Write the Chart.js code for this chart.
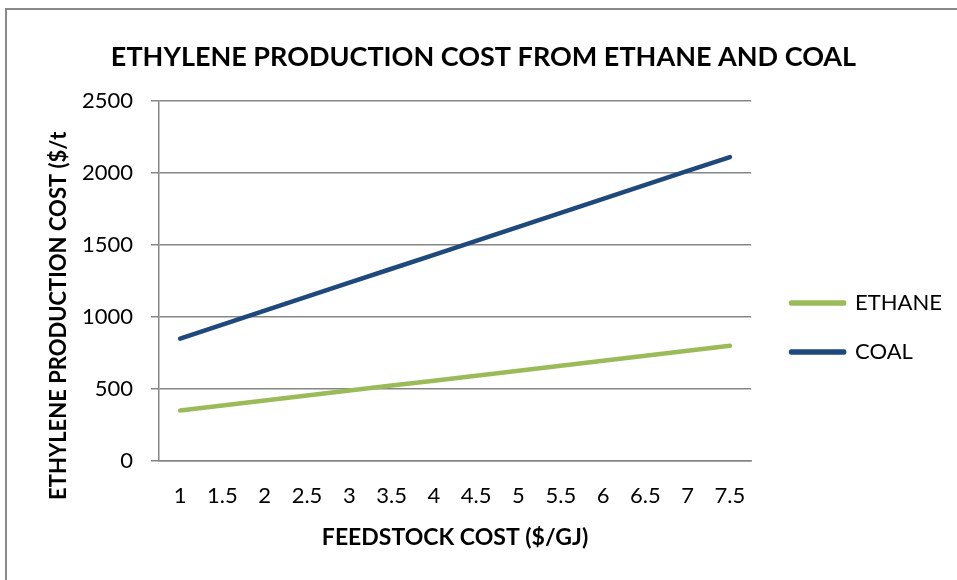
<!DOCTYPE html>
<html>
<head>
<meta charset="utf-8">
<script src="https://cdn.jsdelivr.net/npm/chart.js@4.4.0/dist/chart.umd.min.js"></script>
<style>
  html, body { margin: 0; padding: 0; background: #fff; }
  #wrap { position: relative; width: 957px; height: 580px; overflow: hidden; }
  #frame { position: absolute; left: 5px; top: 8px; right: -5px; bottom: -5px;
           border-left: 2px solid #898989; border-top: 2px solid #898989; }
  canvas { position: absolute; left: 0; top: 0; }
</style>
</head>
<body>
<div id="wrap">
  <div id="frame"></div>
  <canvas id="chart" width="957" height="580"></canvas>
</div>
<script>
// feedstock cost ($/GJ)
const categories = ['1', '1.5', '2', '2.5', '3', '3.5', '4', '4.5', '5', '5.5', '6', '6.5', '7', '7.5'];
// ethylene production cost ($/t)
const ethane = [350, 385, 420, 455, 490, 524, 558, 592, 627, 662, 696, 731, 765, 800];
const coal = [850, 947, 1044, 1141, 1238, 1335, 1432, 1529, 1626, 1723, 1820, 1917, 2014, 2111];
const yTicks = [0, 500, 1000, 1500, 2000, 2500];

const FONT = 'Lato, "Open Sans", sans-serif';
const gridColor = '#868686';

// push the legend a bit right and down, like the original
const legendNudge = {
    id: 'legendNudge',
    afterLayout(chart) {
        const lg = chart.legend;
        lg.left += 13; lg.right += 13;
        lg.top += 52; lg.bottom += 52;
    }
};

const ctx = document.getElementById('chart').getContext('2d');
new Chart(ctx, {
    type: 'line',
    data: {
        labels: categories,
        datasets: [
            {
                label: 'ETHANE',
                data: ethane,
                borderColor: '#9BBB59',
                backgroundColor: '#9BBB59',
                borderWidth: 4.5,
                borderCapStyle: 'round',
                borderJoinStyle: 'round',
                pointRadius: 0,
                tension: 0
            },
            {
                label: 'COAL',
                data: coal,
                borderColor: '#1F497D',
                backgroundColor: '#1F497D',
                borderWidth: 4.5,
                borderCapStyle: 'round',
                borderJoinStyle: 'round',
                pointRadius: 0,
                tension: 0
            }
        ]
    },
    options: {
        responsive: false,
        animation: false,
        layout: { padding: { left: 28, right: 18, top: 0, bottom: 29 } },
        plugins: {
            title: {
                display: true,
                text: 'ETHYLENE PRODUCTION COST FROM ETHANE AND COAL',
                color: '#000',
                font: { family: FONT, size: 27, weight: 'bold' },
                padding: { top: 41, bottom: 27.6 }
            },
            legend: {
                position: 'right',
                labels: {
                    color: '#000',
                    font: { family: FONT, size: 22 },
                    boxWidth: 53,
                    boxHeight: 1,
                    padding: 27
                }
            },
            tooltip: { enabled: false }
        },
        scales: {
            x: {
                offset: true,
                afterFit: scale => { scale.height = 90; },
                grid: { display: false, drawTicks: false },
                border: { display: true, color: gridColor, width: 1.5 },
                ticks: { color: '#000', font: { family: FONT, size: 22 }, padding: 22, maxRotation: 0, autoSkip: false },
                title: {
                    display: true,
                    text: 'FEEDSTOCK COST ($/GJ)',
                    color: '#000',
                    font: { family: FONT, size: 23, weight: 'bold' },
                    padding: { top: 14, bottom: 0 }
                }
            },
            y: {
                min: 0,
                max: 2500,
                afterBuildTicks: function(scale) {
                    scale.ticks = yTicks.map(v => ({ value: v }));
                },
                afterFit: scale => { scale.width = 131; },
                grid: { color: gridColor, lineWidth: 1.5, tickLength: 8, drawTicks: true },
                border: { display: true, color: gridColor, width: 1.5 },
                ticks: {
                    color: '#000',
                    font: { family: FONT, size: 22 },
                    padding: 18,
                    callback: v => String(v)
                },
                title: {
                    display: true,
                    text: 'ETHYLENE PRODUCTION COST ($/t             ',
                    color: '#000',
                    font: { family: FONT, size: 22, weight: 'bold' },
                    padding: { top: 18, bottom: 0 }
                }
            }
        }
    },
    plugins: [legendNudge]
});
</script>
</body>
</html>
